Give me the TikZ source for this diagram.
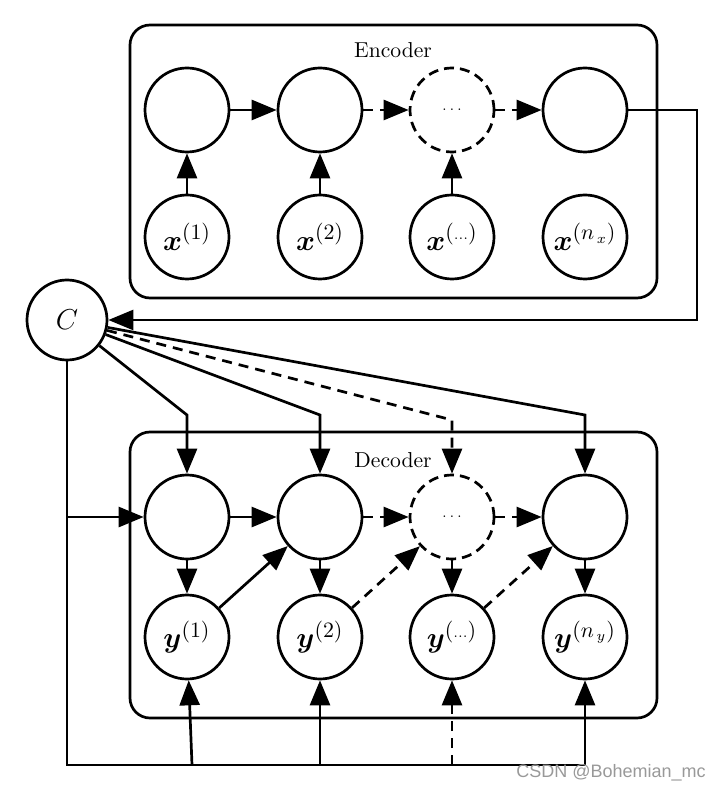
\documentclass[tikz,border=0pt]{standalone}
\usepackage{amsmath}
\usepackage{fontspec}
\newfontfamily\wmfont{Liberation Sans}
\usetikzlibrary{arrows.meta}
\newcommand{\mysupr}[1]{\mbox{\fontsize{10.5}{12}\selectfont$#1$}}
\begin{document}
\begin{tikzpicture}[x=0.5pt,y=-0.5pt, line width=1.35pt,
  nd/.style={circle, draw, minimum size=42pt, inner sep=0pt, font=\fontsize{13.5}{15}\selectfont},
  dnd/.style={nd, dash pattern=on 5pt off 3pt},
  arr/.style={-{Triangle[length=12.5pt,width=10pt]}},
  dsh/.style={dash pattern=on 5pt off 3.5pt},
  boxnd/.style={draw, rounded corners=10pt, inner sep=0pt},
  lab/.style={font=\fontsize{10.8}{12}\selectfont}]
\useasboundingbox (0,0) rectangle (722,790);
% boxes
\node[boxnd, minimum width=263.5pt, minimum height=136.5pt] (enc) at (393.5,161.5) {};
\node[boxnd, minimum width=263.5pt, minimum height=143pt] (dec) at (393.5,575) {};
\node[lab] (enclab) at (393,50) {Encoder};
\node[lab] (declab) at (393,460) {Decoder};
% encoder
\node[nd] (h1) at (187,110) {};
\node[nd] (h2) at (320,110) {};
\node[dnd] (h3) at (452,110) {\scriptsize$\ldots$};
\node[nd] (h4) at (585,110) {};
\node[nd] (x1) at (187,237) {$\boldsymbol{x}^{\mysupr{(1)}}$};
\node[nd] (x2) at (320,237) {$\boldsymbol{x}^{\mysupr{(2)}}$};
\node[nd] (x3) at (452,237) {$\boldsymbol{x}^{\mysupr{({\scriptstyle\ldots})}}$};
\node[nd] (x4) at (585,237) {$\boldsymbol{x}^{\mysupr{(n_{\,x})}}$};
% context
\node[circle, draw, minimum size=40pt, inner sep=0pt, font=\fontsize{13.5}{15}\selectfont] (C) at (67,320) {$C$};
% decoder
\node[nd] (s1) at (187,517) {};
\node[nd] (s2) at (320,517) {};
\node[dnd] (s3) at (452,517) {\scriptsize$\ldots$};
\node[nd] (s4) at (585,517) {};
\node[nd] (y1) at (187,637) {$\boldsymbol{y}^{\mysupr{(1)}}$};
\node[nd] (y2) at (320,637) {$\boldsymbol{y}^{\mysupr{(2)}}$};
\node[nd] (y3) at (452,637) {$\boldsymbol{y}^{\mysupr{({\scriptstyle\ldots})}}$};
\node[nd] (y4) at (585,637) {$\boldsymbol{y}^{\mysupr{(n_{\,y})}}$};
% coordinates
\coordinate (k1) at (187,415);
\coordinate (k2) at (320,415);
\coordinate (k3) at (452,420);
\coordinate (k4) at (585,415);
\coordinate (e1) at (697,110);
\coordinate (e2) at (697,320);
\coordinate (c0) at (67,517);
\coordinate (c1) at (67,765);
\coordinate (b1) at (192,765);
\coordinate (b2) at (320,765);
\coordinate (b3) at (452,765);
\coordinate (b4) at (585,765);
% encoder arrows
\draw[arr] (h1) -- (h2);
\draw[arr,dsh] (h2) -- (h3);
\draw[arr,dsh] (h3) -- (h4);
\draw[arr] (x1) -- (h1);
\draw[arr] (x2) -- (h2);
\draw[arr] (x3) -- (h3);
\draw[arr] (h4) -- (e1) -- (e2) -- (C);
% C to decoder
\draw[arr] (C) -- (k1) -- (s1);
\draw[arr] (C) -- (k2) -- (s2);
\draw[arr,dsh] (C) -- (k3) -- (s3);
\draw[arr] (C) -- (k4) -- (s4);
\draw (C) -- (c1) -- (b4);
\draw[arr] (c0) -- (s1);
% decoder arrows
\draw[arr] (s1) -- (s2);
\draw[arr,dsh] (s2) -- (s3);
\draw[arr,dsh] (s3) -- (s4);
\draw[arr] (s1) -- (y1);
\draw[arr] (s2) -- (y2);
\draw[arr] (s3) -- (y3);
\draw[arr] (s4) -- (y4);
\draw[arr] (y1) -- (s2);
\draw[arr,dsh] (y2) -- (s3);
\draw[arr,dsh] (y3) -- (s4);
\draw[arr] (b1) -- (y1);
\draw[arr] (b2) -- (y2);
\draw[arr,dsh] (b3) -- (y3);
\draw[arr] (b4) -- (y4);
% watermark
\node[text=black!40, font=\wmfont\fontsize{9}{10}\selectfont, anchor=east, inner sep=0pt] (wm) at (707,773) {CSDN @Bohemian\_mc};
\end{tikzpicture}
\end{document}
